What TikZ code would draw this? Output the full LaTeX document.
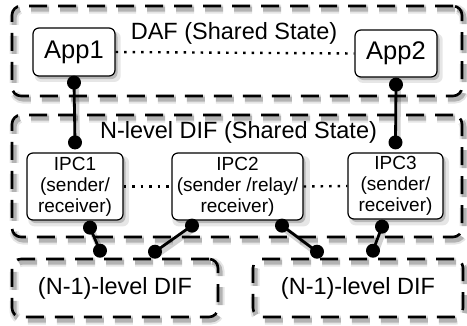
\documentclass[tikz,border=0pt]{standalone}
\usepackage{fontspec}
\setmainfont{Liberation Sans}
\usetikzlibrary{shadows,calc}
\tikzset{
  grp/.style={draw, line width=2.6pt, dash pattern=on 18pt off 11pt, rounded corners=9pt,
    preaction={draw=black, opacity=.10, line width=9pt, transform canvas={shift={(2pt,-3pt)}}},
    preaction={draw=black, opacity=.22, line width=5pt, transform canvas={shift={(2pt,-3pt)}}}},
  box/.style={draw, line width=1.2pt, fill=white, rounded corners=6pt, align=center,
    inner sep=0pt,
    drop shadow={opacity=.2, shadow xshift=3.5pt, shadow yshift=-4.5pt, shadow scale=1.05},
    drop shadow={opacity=.45, shadow xshift=2.5pt, shadow yshift=-3pt}},
  conn/.style={line width=2.8pt,
    preaction={draw=black, opacity=.18, line width=6pt, transform canvas={shift={(2pt,-3pt)}}}},
  dots/.style={line width=2.4pt, dash pattern=on 2.5pt off 6pt},
  dotpt/.style={circle, fill=black, draw=none, inner sep=0pt, minimum size=14pt},
  big/.style={font=\fontsize{23.5}{26}\selectfont},
  appf/.style={font=\fontsize{25.5}{28}\selectfont},
  ipcf/.style={font=\fontsize{19}{21}\selectfont},
}
\begin{document}
\begin{tikzpicture}[x=1pt,y=-1pt]
\useasboundingbox (0,0) rectangle (467,325);
% groups
\node[grp, minimum width=450pt, minimum height=90pt] (daf) at (237,51) {};
\node[grp, minimum width=450pt, minimum height=122pt] (dif) at (237,176) {};
\node[grp, big, minimum width=206pt, minimum height=58pt] (lowl) at (115,288) {(N-1)-level DIF};
\node[grp, big, minimum width=210pt, minimum height=58pt] (lowr) at (358,288) {(N-1)-level DIF};
\node[big] (daflbl) at (234,33) {DAF (Shared State)};
\node[big] (diflbl) at (238.5,132) {N-level DIF (Shared State)};
% boxes
\node[box, appf, minimum width=82pt, minimum height=48pt] (app1) at (74,52) {App1};
\node[box, appf, minimum width=82pt, minimum height=47pt] (app2) at (396,53.5) {App2};
\node[box, ipcf, minimum width=96pt, minimum height=67pt] (ipc1) at (75,186.5) {IPC1\\(sender/\\receiver)};
\node[box, ipcf, minimum width=131pt, minimum height=67pt] (ipc2) at (237.5,186.5) {IPC2\\(sender /relay/\\receiver)};
\node[box, ipcf, minimum width=95pt, minimum height=66pt] (ipc3) at (395.5,186) {IPC3\\(sender/\\receiver)};
% dotted peer links
\draw[dots] (app1.east) -- (app2.west);
\draw[dots] (ipc1.east) -- (ipc2.west);
\draw[dots] (ipc2.east) -- (ipc3.west);
% connector end points
\coordinate (a1) at ($(app1.south)+(0,6)$);
\coordinate (i1t) at ($(ipc1.north)+(0,-10)$);
\coordinate (a2) at ($(app2.south)+(0,7)$);
\coordinate (i3t) at ($(ipc3.north)+(0,-10)$);
\coordinate (i1b) at ($(ipc1.south)+(15,7)$);
\coordinate (l1) at ($(lowl.north)+(-15,-7)$);
\coordinate (i2b1) at ($(ipc2.south)+(-45.5,5)$);
\coordinate (l2) at ($(lowl.north)+(40,-6)$);
\coordinate (i2b2) at ($(ipc2.south)+(44.5,5)$);
\coordinate (r1) at ($(lowr.north)+(-41,-6)$);
\coordinate (i3b) at ($(ipc3.south)+(-13.5,7)$);
\coordinate (r2) at ($(lowr.north)+(15,-7)$);
% connectors
\draw[conn] (a1) -- (i1t);
\draw[conn] (a2) -- (i3t);
\draw[conn] (i1b) -- (l1);
\draw[conn] (i2b1) -- (l2);
\draw[conn] (i2b2) -- (r1);
\draw[conn] (i3b) -- (r2);
\foreach \q in {a1,i1t,a2,i3t,i1b,l1,i2b1,l2,i2b2,r1,i3b,r2}
  \node[dotpt] at (\q) {};
\end{tikzpicture}
\end{document}
